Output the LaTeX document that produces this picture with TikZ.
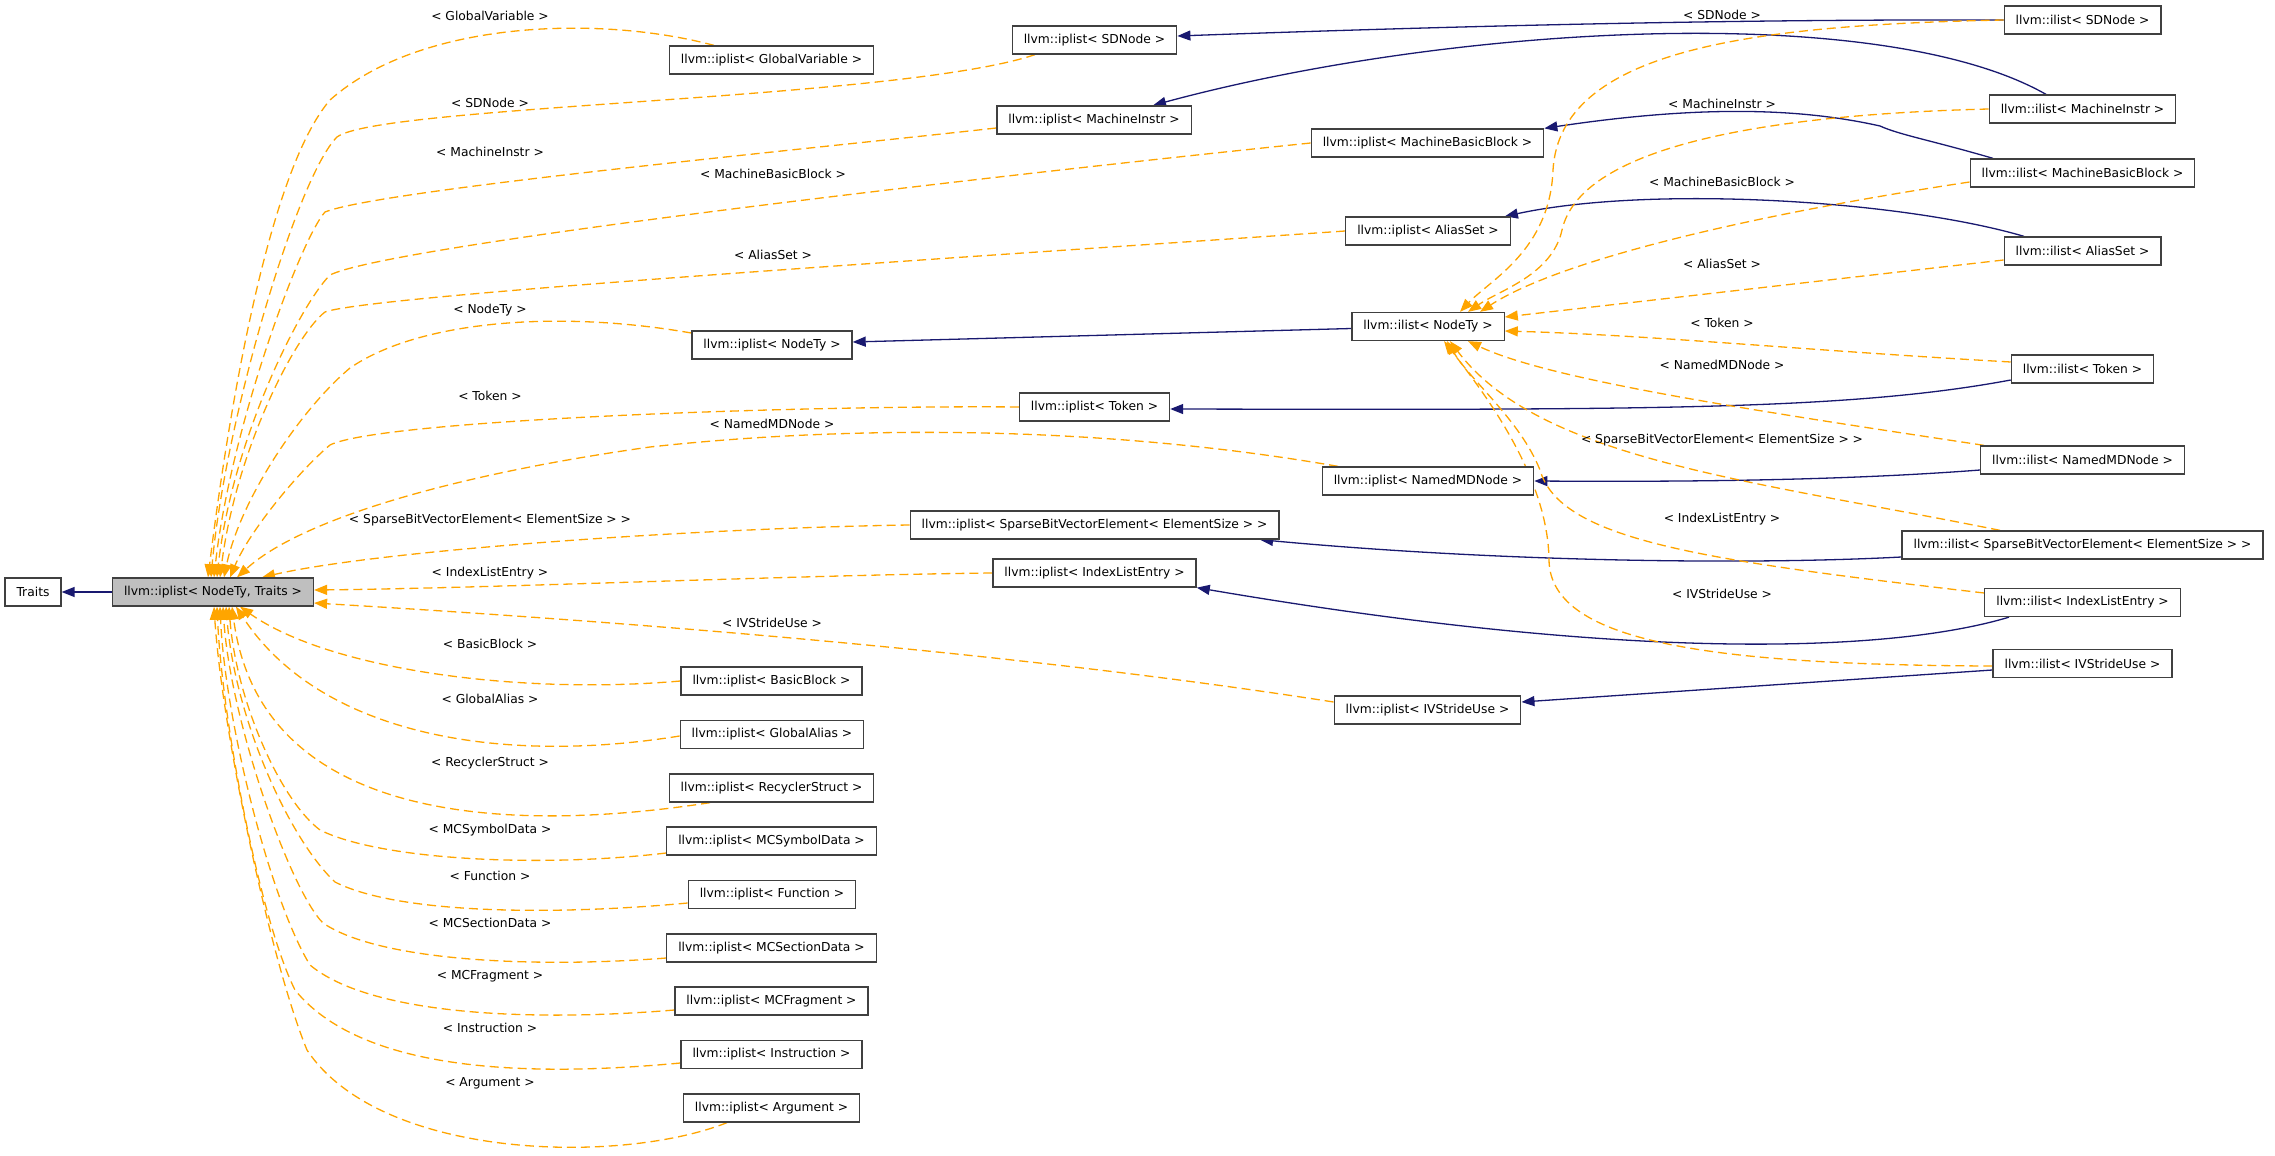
\documentclass[tikz,border=0pt]{standalone}
\usepackage{fontspec}
\setmainfont{DejaVu Sans}
\usetikzlibrary{arrows.meta}
\definecolor{edgeorange}{HTML}{FFA500}
\definecolor{navyedge}{HTML}{191970}
\definecolor{boxgray}{HTML}{BFBFBF}
\definecolor{boxborder}{HTML}{404040}
\pgfdeclarelayer{back}
\pgfdeclarelayer{bg}
\pgfsetlayers{back,bg,main}
\begin{document}
\begin{tikzpicture}[x=1pt,y=-1pt,
  cls/.style={draw=boxborder, line width=1.3pt, fill=white, font=\fontsize{12.3pt}{14pt}\selectfont, inner xsep=11.5pt, inner ysep=0pt, minimum height=28pt, anchor=center},
  lbl/.style={font=\fontsize{12.3pt}{14pt}\selectfont, inner sep=0pt, text=black},
  tpl/.style={color=edgeorange, line width=1.3pt, dash pattern=on 9pt off 5pt, -{Triangle[length=13pt,width=10pt]}},
  inh/.style={color=navyedge, line width=1.3pt, -{Triangle[length=13pt,width=10pt]}},
]
\begin{pgfonlayer}{back}
\fill[white] (0,0) rectangle (2275,1156);
\end{pgfonlayer}
\useasboundingbox (0,0) rectangle (2275,1156);

% ---- nodes ----
\node[cls] (traits) at (33,592) {Traits};
\node[cls, fill=boxgray] (main) at (213,592) {llvm::iplist< NodeTy, Traits >};

\node[cls] (ipgv)  at (771.5,60)   {llvm::iplist< GlobalVariable >};
\node[cls] (ipsd)  at (1094.5,40)  {llvm::iplist< SDNode >};
\node[cls] (ipmi)  at (1094,120)   {llvm::iplist< MachineInstr >};
\node[cls] (ipmbb) at (1427.5,143) {llvm::iplist< MachineBasicBlock >};
\node[cls] (ipas)  at (1428,231)   {llvm::iplist< AliasSet >};
\node[cls] (ipnt)  at (772,345)    {llvm::iplist< NodeTy >};
\node[cls] (iptok) at (1094.5,407) {llvm::iplist< Token >};
\node[cls] (ipnmd) at (1428,481)   {llvm::iplist< NamedMDNode >};
\node[cls] (ipsb)  at (1094.5,525) {llvm::iplist< SparseBitVectorElement< ElementSize > >};
\node[cls] (ipile) at (1094.5,573) {llvm::iplist< IndexListEntry >};
\node[cls] (ipivs) at (1427.5,710) {llvm::iplist< IVStrideUse >};
\node[cls] (ipbb)  at (771.5,681)  {llvm::iplist< BasicBlock >};
\node[cls] (ipga)  at (772,734.5)  {llvm::iplist< GlobalAlias >};
\node[cls] (iprs)  at (771.5,788)  {llvm::iplist< RecyclerStruct >};
\node[cls] (ipmcs) at (771.5,841)  {llvm::iplist< MCSymbolData >};
\node[cls] (ipfn)  at (772,894.5)  {llvm::iplist< Function >};
\node[cls] (ipmcsd) at (771.5,948) {llvm::iplist< MCSectionData >};
\node[cls] (ipmcf) at (771.5,1001) {llvm::iplist< MCFragment >};
\node[cls] (ipins) at (771.5,1054.5) {llvm::iplist< Instruction >};
\node[cls] (iparg) at (771.5,1108) {llvm::iplist< Argument >};

\node[cls] (ilsd)  at (2082.5,20)  {llvm::ilist< SDNode >};
\node[cls] (ilmi)  at (2082.5,109) {llvm::ilist< MachineInstr >};
\node[cls] (ilmbb) at (2082.5,173) {llvm::ilist< MachineBasicBlock >};
\node[cls] (ilas)  at (2082.5,251) {llvm::ilist< AliasSet >};
\node[cls] (ilnt)  at (1428,326.5) {llvm::ilist< NodeTy >};
\node[cls] (iltok) at (2082.5,369) {llvm::ilist< Token >};
\node[cls] (ilnmd) at (2082.5,460) {llvm::ilist< NamedMDNode >};
\node[cls] (ilsb)  at (2082.5,545) {llvm::ilist< SparseBitVectorElement< ElementSize > >};
\node[cls] (ilile) at (2082.5,602.5) {llvm::ilist< IndexListEntry >};
\node[cls] (ilivs) at (2082.5,663.5) {llvm::ilist< IVStrideUse >};

% ---- labels ----
\node[lbl] (l1)  at (490,16)   {< GlobalVariable >};
\node[lbl] (l2)  at (490,103)  {< SDNode >};
\node[lbl] (l3)  at (490,152)  {< MachineInstr >};
\node[lbl] (l4)  at (773,174)  {< MachineBasicBlock >};
\node[lbl] (l5)  at (773,255)  {< AliasSet >};
\node[lbl] (l6)  at (490,310)  {< NodeTy >};
\node[lbl] (l7)  at (490,396)  {< Token >};
\node[lbl] (l8)  at (772,424)  {< NamedMDNode >};
\node[lbl] (l9)  at (490,520)  {< SparseBitVectorElement< ElementSize > >};
\node[lbl] (l10) at (490,573)  {< IndexListEntry >};
\node[lbl] (l11) at (772,623)  {< IVStrideUse >};
\node[lbl] (l12) at (490,644)  {< BasicBlock >};
\node[lbl] (l13) at (490,699)  {< GlobalAlias >};
\node[lbl] (l14) at (490,763)  {< RecyclerStruct >};
\node[lbl] (l15) at (490,830)  {< MCSymbolData >};
\node[lbl] (l16) at (490,876)  {< Function >};
\node[lbl] (l17) at (490,923)  {< MCSectionData >};
\node[lbl] (l18) at (490,976)  {< MCFragment >};
\node[lbl] (l19) at (490,1028) {< Instruction >};
\node[lbl] (l20) at (490,1083) {< Argument >};

\node[lbl] (r1) at (1722,15)  {< SDNode >};
\node[lbl] (r2) at (1722,104) {< MachineInstr >};
\node[lbl] (r3) at (1722,182) {< MachineBasicBlock >};
\node[lbl] (r4) at (1722,264) {< AliasSet >};
\node[lbl] (r5) at (1722,323) {< Token >};
\node[lbl] (r6) at (1722,365) {< NamedMDNode >};
\node[lbl] (r7) at (1722,440) {< SparseBitVectorElement< ElementSize > >};
\node[lbl] (r8) at (1722,519) {< IndexListEntry >};
\node[lbl] (r9) at (1722,594) {< IVStrideUse >};

\begin{pgfonlayer}{bg}
% ---- inheritance (navy) ----
\draw[inh] (main.west) -- (traits.east);
\draw[inh] (ilsd.west) .. controls (1700,19) and (1400,28) .. ([yshift=4pt]ipsd.east);
\draw[inh] ([xshift=-36.5pt]ilmi.north) .. controls (1880,0) and (1450,25) .. ([xshift=59pt]ipmi.north);
\draw[inh] ([xshift=-89.5pt]ilmbb.north) .. controls (1930,140) and (1900,135) .. (1880,126) .. controls (1800,108) and (1700,105) .. (ipmbb.north east);
\draw[inh] ([xshift=-58.5pt]ilas.north) .. controls (1900,200) and (1650,185) .. ([xshift=-6pt]ipas.north east);
\draw[inh] ([yshift=-2pt]ilnt.west) -- ([yshift=3pt]ipnt.east);
\draw[inh] ([yshift=-11pt]iltok.west) .. controls (1850,410) and (1650,410) .. ([yshift=-2pt]iptok.east);
\draw[inh] ([yshift=-10pt]ilnmd.west) .. controls (1850,480) and (1700,482) .. (ipnmd.east);
\draw[inh] ([yshift=-12pt]ilsb.west) .. controls (1750,565) and (1500,562) .. ([xshift=165.5pt]ipsb.south);
\draw[inh] ([xshift=-73.5pt]ilile.south) .. controls (1900,650) and (1650,665) .. (ipile.south east);
\draw[inh] ([yshift=-6.5pt]ilivs.west) -- ([yshift=8pt]ipivs.east);

% ---- template instances to main (top) ----
\draw[tpl] ([xshift=-57.5pt]ipgv.north) .. controls (600,15) and (420,20) .. (330,100) .. controls (270,170) and (230,400) .. ([xshift=-5pt]main.north);
\draw[tpl] ([xshift=-59.5pt]ipsd.south) .. controls (900,100) and (380,105) .. (337,137) .. controls (297,177) and (225,420) .. ([xshift=-2pt]main.north);
\draw[tpl] ([yshift=-8pt]ipmi.west) .. controls (800,150) and (380,190) .. (325,212) .. controls (300,240) and (230,430) .. ([xshift=1pt]main.north);
\draw[tpl] (ipmbb.west) .. controls (1000,175) and (390,245) .. (330,275) .. controls (300,305) and (232,440) .. ([xshift=4pt]main.north);
\draw[tpl] (ipas.west) .. controls (1000,255) and (370,295) .. (325,312) .. controls (295,335) and (236,450) .. ([xshift=7pt]main.north);
\draw[tpl] ([yshift=12pt]ipnt.west) .. controls (560,310) and (420,320) .. (350,368) .. controls (300,410) and (240,500) .. ([xshift=11pt]main.north);
\draw[tpl] (iptok.west) .. controls (800,405) and (380,420) .. (330,445) .. controls (300,470) and (250,530) .. ([xshift=17pt]main.north);
\draw[tpl] ([xshift=-90pt]ipnmd.north) .. controls (1100,425) and (850,425) .. (650,447) .. controls (450,475) and (300,520) .. ([xshift=24pt]main.north);
\draw[tpl] (ipsb.west) .. controls (700,528) and (380,550) .. ([xshift=49pt]main.north);
% right side
\draw[tpl] (ipile.west) .. controls (800,575) and (500,588) .. ([yshift=2pt]main.east);
\draw[tpl] ([yshift=8pt]ipivs.west) .. controls (1000,650) and (600,620) .. ([yshift=-11pt]main.east);
% bottom
\draw[tpl] (ipbb.west) .. controls (520,695) and (330,670) .. ([xshift=27pt]main.south);
\draw[tpl] ([yshift=-1.5pt]ipga.west) .. controls (500,765) and (320,735) .. ([xshift=23pt]main.south);
\draw[tpl] ([xshift=-61.5pt]iprs.south) .. controls (500,835) and (260,820) .. ([xshift=19pt]main.south);
\draw[tpl] ([yshift=-12pt]ipmcs.west) .. controls (540,868) and (380,860) .. (320,830) .. controls (280,800) and (236,700) .. ([xshift=16pt]main.south);
\draw[tpl] ([yshift=-8.5pt]ipfn.west) .. controls (560,915) and (400,915) .. (335,882) .. controls (290,840) and (235,720) .. ([xshift=13pt]main.south);
\draw[tpl] ([yshift=-10pt]ipmcsd.west) .. controls (540,968) and (380,962) .. (323,923) .. controls (290,890) and (230,720) .. ([xshift=10pt]main.south);
\draw[tpl] ([yshift=-9pt]ipmcf.west) .. controls (530,1022) and (370,1015) .. (310,965) .. controls (270,900) and (225,720) .. ([xshift=7pt]main.south);
\draw[tpl] ([yshift=-8.5pt]ipins.west) .. controls (520,1078) and (360,1070) .. (295,990) .. controls (260,920) and (222,720) .. ([xshift=4pt]main.south);
\draw[tpl] ([xshift=-44.5pt]iparg.south) .. controls (620,1165) and (380,1160) .. (307,1050) .. controls (270,960) and (222,730) .. ([xshift=1pt]main.south);

% ---- ilist instances to ilist<NodeTy> ----
\draw[tpl] (ilsd.west) .. controls (1750,25) and (1560,50) .. (1553,170) .. controls (1550,250) and (1490,280) .. ([xshift=32pt]ilnt.north);
\draw[tpl] (ilmi.west) .. controls (1750,115) and (1580,150) .. (1562,230) .. controls (1552,275) and (1500,290) .. ([xshift=40pt]ilnt.north);
\draw[tpl] ([yshift=-9pt]ilmbb.west) .. controls (1750,215) and (1560,260) .. ([xshift=52pt]ilnt.north);
\draw[tpl] ([yshift=-9pt]ilas.west) -- ([yshift=9.5pt]ilnt.east);
\draw[tpl] ([yshift=7pt]iltok.west) .. controls (1800,350) and (1650,335) .. ([yshift=-4.5pt]ilnt.east);
\draw[tpl] ([xshift=-98.5pt]ilnmd.north) .. controls (1750,410) and (1550,380) .. ([xshift=40pt]ilnt.south);
\draw[tpl] ([xshift=-82.5pt]ilsb.north) .. controls (1750,480) and (1540,460) .. ([xshift=22pt]ilnt.south);
\draw[tpl] ([yshift=9.5pt]ilile.west) .. controls (1700,560) and (1560,540) .. (1540,470) .. controls (1520,420) and (1470,380) .. ([xshift=19pt]ilnt.south);
\draw[tpl] ([yshift=-2.5pt]ilivs.west) .. controls (1700,665) and (1550,640) .. (1549,560) .. controls (1548,480) and (1490,400) .. ([xshift=16pt]ilnt.south);
\end{pgfonlayer}
\end{tikzpicture}
\end{document}
